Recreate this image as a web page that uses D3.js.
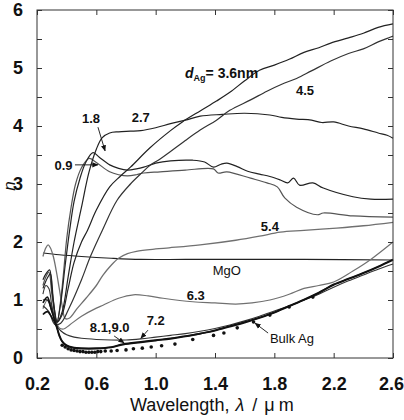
<!DOCTYPE html>
<html>
<head>
<meta charset="utf-8">
<script src="https://cdn.jsdelivr.net/npm/d3@7"></script>
<style>
body{margin:0;background:#fff;}
text{font-family:"Liberation Sans",Arial,sans-serif;}
</style>
</head>
<body>
<script>
// film thickness curves, [wavelength (um), n]
var ag09 = [[0.24,1.25],[0.26,1.4],[0.28,1.48],[0.30,1.1],[0.32,0.75],[0.335,0.62],[0.36,1.0],[0.38,1.5],[0.40,2.05],[0.43,2.6],[0.46,3.0],[0.50,3.28],[0.55,3.44],[0.6,3.37],[0.69,3.21],[0.75,3.16],[0.81,3.14],[0.87,3.16],[0.92,3.19],[1.03,3.21],[1.2,3.24],[1.39,3.26],[1.42,3.19],[1.48,3.21],[1.64,3.1],[1.75,3.02],[1.82,2.95],[1.87,2.76],[1.95,2.6],[2.09,2.47],[2.13,2.5],[2.33,2.45],[2.6,2.43]];
var ag18 = [[0.24,1.35],[0.26,1.45],[0.285,1.52],[0.30,1.2],[0.32,0.8],[0.335,0.62],[0.36,0.95],[0.39,1.6],[0.42,2.2],[0.45,2.7],[0.49,3.1],[0.53,3.38],[0.578,3.54],[0.62,3.46],[0.69,3.33],[0.75,3.27],[0.81,3.24],[0.87,3.26],[0.92,3.29],[1.0,3.36],[1.1,3.4],[1.25,3.41],[1.33,3.38],[1.39,3.29],[1.44,3.34],[1.48,3.36],[1.55,3.3],[1.62,3.22],[1.7,3.17],[1.77,3.13],[1.84,3.07],[1.89,3.02],[1.93,3.1],[1.97,2.98],[2.06,3.02],[2.13,2.93],[2.33,2.78],[2.45,2.74],[2.6,2.74]];
var ag27 = [[0.24,1.2],[0.27,1.38],[0.29,1.45],[0.31,1.0],[0.335,0.62],[0.37,0.8],[0.41,1.4],[0.45,2.0],[0.5,2.6],[0.55,3.2],[0.6,3.6],[0.64,3.8],[0.69,3.88],[0.75,3.9],[0.83,3.91],[0.9,3.92],[1.0,3.97],[1.1,4.04],[1.2,4.1],[1.3,4.17],[1.45,4.2],[1.6,4.22],[1.77,4.19],[1.85,4.15],[1.95,4.12],[2.05,4.1],[2.12,4.06],[2.2,4.07],[2.3,4.0],[2.4,3.95],[2.5,3.88],[2.56,3.84],[2.6,3.79]];
var ag36 = [[0.24,1.0],[0.27,1.0],[0.3,0.8],[0.335,0.62],[0.37,0.75],[0.41,1.2],[0.45,1.65],[0.5,2.0],[0.54,2.2],[0.6,2.55],[0.69,2.95],[0.76,3.13],[0.83,3.29],[0.96,3.62],[1.1,3.92],[1.18,4.07],[1.3,4.26],[1.41,4.43],[1.5,4.58],[1.6,4.78],[1.7,4.96],[1.8,5.05],[1.9,5.15],[2.0,5.27],[2.1,5.35],[2.18,5.43],[2.3,5.52],[2.4,5.6],[2.5,5.7],[2.6,5.76]];
var ag45 = [[0.24,0.9],[0.28,0.8],[0.32,0.58],[0.36,0.6],[0.42,0.88],[0.5,1.35],[0.56,1.75],[0.64,2.2],[0.74,2.72],[0.83,3.0],[0.91,3.2],[0.96,3.32],[1.03,3.43],[1.1,3.56],[1.2,3.75],[1.3,3.93],[1.41,4.1],[1.5,4.27],[1.64,4.45],[1.75,4.6],[1.85,4.72],[1.95,4.82],[2.05,4.95],[2.18,5.12],[2.3,5.25],[2.4,5.33],[2.5,5.45],[2.58,5.53],[2.6,5.55]];
var ag54 = [[0.24,1.75],[0.26,1.9],[0.275,1.95],[0.29,1.9],[0.31,1.75],[0.33,1.5],[0.35,1.2],[0.37,0.9],[0.39,0.68],[0.42,0.69],[0.47,0.85],[0.53,1.03],[0.6,1.25],[0.645,1.43],[0.7,1.6],[0.75,1.72],[0.81,1.8],[0.87,1.84],[1.0,1.88],[1.09,1.9],[1.3,1.95],[1.54,2.03],[1.7,2.1],[1.84,2.17],[2.0,2.2],[2.22,2.24],[2.4,2.28],[2.6,2.34]];
var ag63 = [[0.24,0.85],[0.27,1.0],[0.29,0.95],[0.32,0.7],[0.35,0.52],[0.38,0.5],[0.42,0.57],[0.5,0.72],[0.6,0.86],[0.645,0.91],[0.75,1.03],[0.85,1.09],[0.95,1.07],[1.05,1.03],[1.25,0.97],[1.4,0.95],[1.54,0.93],[1.65,0.95],[1.77,1.0],[1.9,1.1],[2.0,1.2],[2.1,1.25],[2.2,1.31],[2.33,1.5],[2.45,1.7],[2.6,2.0]];
var ag72 = [[0.24,1.1],[0.26,1.25],[0.28,1.2],[0.3,0.9],[0.33,0.57],[0.36,0.47],[0.4,0.4],[0.45,0.36],[0.5,0.34],[0.6,0.32],[0.7,0.31],[0.8,0.31],[0.9,0.33],[1.0,0.36],[1.1,0.39],[1.2,0.42],[1.3,0.46],[1.4,0.51],[1.5,0.57],[1.6,0.64],[1.7,0.72],[1.8,0.81],[1.9,0.9],[2.0,1.0],[2.1,1.1],[2.2,1.22],[2.3,1.33],[2.4,1.43],[2.5,1.53],[2.6,1.62]];
var ag81 = [[0.24,0.95],[0.27,1.05],[0.29,0.9],[0.31,0.72],[0.33,0.57],[0.35,0.4],[0.37,0.29],[0.4,0.22],[0.45,0.18],[0.5,0.17],[0.6,0.17],[0.7,0.19],[0.78,0.24],[0.9,0.28],[1.0,0.31],[1.1,0.34],[1.2,0.38],[1.3,0.42],[1.4,0.48],[1.5,0.55],[1.6,0.62],[1.7,0.7],[1.8,0.79],[1.9,0.9],[2.0,1.01],[2.1,1.13],[2.2,1.26],[2.3,1.36],[2.4,1.46],[2.5,1.57],[2.6,1.69]];
var ag90 = [[0.24,0.75],[0.27,0.8],[0.3,0.7],[0.33,0.55],[0.35,0.38],[0.37,0.28],[0.4,0.21],[0.45,0.17],[0.5,0.16],[0.6,0.16],[0.7,0.18],[0.78,0.23],[0.9,0.27],[1.0,0.3],[1.1,0.33],[1.2,0.37],[1.3,0.42],[1.4,0.47],[1.5,0.54],[1.6,0.61],[1.7,0.69],[1.8,0.78],[1.9,0.89],[2.0,1.0],[2.1,1.12],[2.2,1.27],[2.3,1.37],[2.4,1.47],[2.5,1.58],[2.6,1.7]];
var mgo = [[0.24,1.81],[0.35,1.78],[0.5,1.75],[0.7,1.72],[0.9,1.7],[1.2,1.7],[1.6,1.7],[2.0,1.7],[2.6,1.69]];
// bulk Ag (dots)
var bulkAg = [[0.37,0.22],[0.39,0.19],[0.41,0.16],[0.43,0.14],[0.45,0.13],[0.47,0.12],[0.49,0.11],[0.51,0.11],[0.53,0.10],[0.55,0.10],[0.57,0.10],[0.59,0.10],[0.61,0.11],[0.63,0.11],[0.66,0.12],[0.70,0.12],[0.74,0.13],[0.80,0.14],[0.85,0.16],[0.91,0.17],[0.97,0.19],[1.04,0.21],[1.13,0.24],[1.25,0.32],[1.39,0.39],[1.46,0.43],[1.55,0.52],[1.66,0.62],[1.77,0.74],[1.90,0.88],[2.06,1.05]];

var xTicks = [0.2,0.6,1.0,1.4,1.8,2.2,2.6];
var yTicks = [0,0.5,1,1.5,2,2.5,3,3.5,4,4.5,5,5.5,6];

var width = 404, height = 420;
var margins = {top:10, bottom:62, left:37, right:11};

var svg = d3.select("body").append("svg")
  .attr("width",width)
  .attr("height",height);

var xScale = d3.scaleLinear().domain([0.2,2.6]).range([margins.left, width-margins.right]);
var yScale = d3.scaleLinear().domain([0,6]).range([height-margins.bottom, margins.top]);

var line = d3.line()
  .x(function(d){return xScale(d[0])})
  .y(function(d){return yScale(d[1])})
  .curve(d3.curveCatmullRom.alpha(0.5));

var plotW = xScale(2.6)-xScale(0.2), plotH = yScale(0)-yScale(6);

// curves
var series = [
  {d:mgo, c:"#222", w:1.1},
  {d:ag54, c:"#707070", w:1.3},
  {d:ag63, c:"#707070", w:1.2},
  {d:ag09, c:"#555", w:1.2},
  {d:ag18, c:"#222", w:1.2},
  {d:ag27, c:"#222", w:1.2},
  {d:ag36, c:"#222", w:1.2},
  {d:ag45, c:"#333", w:1.2},
  {d:ag72, c:"#333", w:1.1},
  {d:ag81, c:"#111", w:1.6},
  {d:ag90, c:"#111", w:1.6}
];
series.forEach(function(s){
  svg.append("path")
    .datum(s.d)
    .attr("d",line)
    .attr("fill","none")
    .attr("stroke",s.c)
    .attr("stroke-width",s.w)
    .attr("stroke-linejoin","round");
});

svg.selectAll("circle.bulk")
  .data(bulkAg)
  .enter().append("circle")
  .attr("class","bulk")
  .attr("cx",function(d){return xScale(d[0])})
  .attr("cy",function(d){return yScale(d[1])})
  .attr("r",1.8)
  .attr("fill","#111");

// frame + axes
svg.append("rect")
  .attr("x",xScale(0.2)).attr("y",yScale(6))
  .attr("width",plotW).attr("height",plotH)
  .attr("fill","none").attr("stroke","#333").attr("stroke-width",1);

var fmtY = function(d){return d%1===0 ? d : ""};

var gx = svg.append("g")
  .attr("transform","translate(0,"+yScale(0)+")")
  .call(d3.axisBottom(xScale).tickValues(xTicks).tickSize(-5).tickPadding(19).tickFormat(d3.format(".1f")));
svg.append("g")
  .attr("transform","translate(0,"+yScale(6)+")")
  .call(d3.axisTop(xScale).tickValues(xTicks).tickSize(-5).tickFormat(""));
svg.append("g")
  .attr("transform","translate("+xScale(0.2)+",0)")
  .call(d3.axisLeft(yScale).tickValues(yTicks).tickSize(-5).tickPadding(14).tickFormat(fmtY));
svg.append("g")
  .attr("transform","translate("+xScale(2.6)+",0)")
  .call(d3.axisRight(yScale).tickValues(yTicks).tickSize(-5).tickFormat(""));

svg.selectAll(".domain").remove();
svg.selectAll(".tick line").attr("stroke","#333");
svg.selectAll(".tick text")
  .attr("font-family","'Liberation Sans',Arial,sans-serif")
  .attr("font-size",18)
  .attr("font-weight","bold")
  .attr("fill","#111");
// last x label sits at the page edge
gx.selectAll(".tick text").filter(function(d){return d===2.6}).attr("dx",-2);

// axis titles
var xt = svg.append("text")
  .attr("x",130).attr("y",411)
  .attr("font-size",18).attr("fill","#111");
xt.append("tspan").text("Wavelength,");
xt.append("tspan").attr("dx",6).attr("font-style","italic").text("λ");
xt.append("tspan").attr("dx",8).text("/");
xt.append("tspan").attr("dx",7).text("μ");
xt.append("tspan").attr("dx",4).text("m");

svg.append("text")
  .attr("transform","translate(15,186) rotate(-90)")
  .attr("text-anchor","middle")
  .attr("font-size",17).attr("font-style","italic").attr("fill","#111")
  .text("n");

// annotations
var defs = svg.append("defs");
defs.append("marker")
  .attr("id","arr").attr("viewBox","0 0 10 10")
  .attr("refX",9).attr("refY",5)
  .attr("markerWidth",7).attr("markerHeight",7)
  .attr("orient","auto")
  .append("path").attr("d","M0,1 L10,5 L0,9 Z").attr("fill","#111");

function label(t, lx, ln, anchor, weight){
  return svg.append("text")
    .attr("x",xScale(lx)).attr("y",yScale(ln))
    .attr("text-anchor",anchor||"middle")
    .attr("font-size",13)
    .attr("font-weight",weight||"normal")
    .attr("fill","#111")
    .text(t);
}
function arrow(l1,n1,l2,n2){
  svg.append("line")
    .attr("x1",xScale(l1)).attr("y1",yScale(n1))
    .attr("x2",xScale(l2)).attr("y2",yScale(n2))
    .attr("stroke","#111").attr("stroke-width",0.9)
    .attr("marker-end","url(#arr)");
}

label("1.8",0.564,4.05,"middle","bold");
label("2.7",0.90,4.07,"middle","bold");
label("0.9",0.44,3.24,"end","bold");
label("4.5",2.007,4.53,"middle","bold");
label("5.4",1.77,2.19,"middle","bold");
label("MgO",1.48,1.43);
label("6.3",1.27,1.0,"middle","bold");
label("8.1,9.0",0.69,0.45,"middle","bold");
label("7.2",1.0,0.57,"middle","bold");
label("Bulk Ag",1.77,0.26,"start");

var dl = svg.append("text")
  .attr("x",xScale(1.198)).attr("y",yScale(4.83))
  .attr("font-size",14).attr("font-weight","bold").attr("fill","#111");
dl.append("tspan").attr("font-style","italic").text("d");
dl.append("tspan").attr("font-size",9).attr("dy",3).text("Ag");
dl.append("tspan").attr("dy",-3).text("= 3.6nm");

arrow(0.611,3.98,0.659,3.57);
arrow(0.456,3.33,0.611,3.33);
arrow(0.72,0.38,0.787,0.26);
arrow(0.948,0.48,0.90,0.34);
arrow(1.758,0.43,1.67,0.60);
</script>
</body>
</html>
